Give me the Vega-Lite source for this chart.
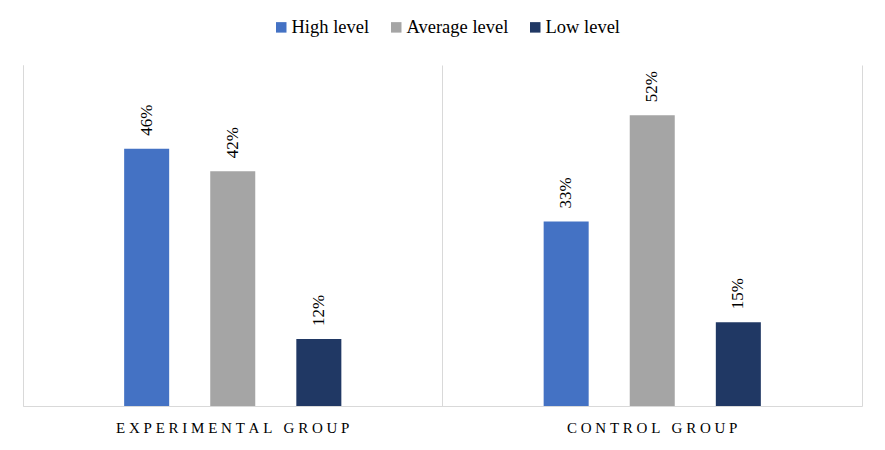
{
  "$schema": "https://vega.github.io/schema/vega-lite/v6.json",
  "width": 839,
  "height": 341,
  "autosize": "none",
  "padding": {"left": 23, "top": 65, "right": 23, "bottom": 44},
  "background": "white",
  "config": {"view": {"stroke": null}},
  "data": {
    "values": [
      {"group": "EXPERIMENTAL GROUP", "level": "High level", "value": 0.46},
      {"group": "EXPERIMENTAL GROUP", "level": "Average level", "value": 0.42},
      {"group": "EXPERIMENTAL GROUP", "level": "Low level", "value": 0.12},
      {"group": "CONTROL GROUP", "level": "High level", "value": 0.33},
      {"group": "CONTROL GROUP", "level": "Average level", "value": 0.52},
      {"group": "CONTROL GROUP", "level": "Low level", "value": 0.15}
    ]
  },
  "encoding": {
    "x": {
      "field": "group", "type": "nominal",
      "sort": ["EXPERIMENTAL GROUP", "CONTROL GROUP"],
      "scale": {"paddingInner": 0, "paddingOuter": 0},
      "axis": {
        "title": null, "labelAngle": 0, "ticks": false,
        "domainColor": "#d9d9d9", "grid": true, "gridColor": "#d9d9d9",
        "bandPosition": 0,
        "labelFont": "Liberation Serif", "labelFontSize": 15, "labelColor": "#000000",
        "labelPadding": 14, "labelLimit": 0,
        "labelExpr": "join(split(datum.label, ''), '\u00a0')"
      }
    },
    "xOffset": {
      "field": "level", "type": "nominal",
      "scale": {"domain": ["_pad_left", "High level", "Average level", "Low level", "_pad_right"], "paddingInner": 0.477, "paddingOuter": 0.175}
    },
    "y": {
      "field": "value", "type": "quantitative",
      "scale": {"domain": [0, 0.61]}
    }
  },
  "layer": [
    {
      "mark": {"type": "bar"},
      "encoding": {
        "y": {
          "field": "value", "type": "quantitative",
          "scale": {"domain": [0, 0.61]},
          "axis": {"title": null, "labels": false, "ticks": false, "grid": false, "domainColor": "#d9d9d9", "orient": "left"}
        },
        "color": {
          "field": "level", "type": "nominal",
          "scale": {"domain": ["High level", "Average level", "Low level"], "range": ["#4472C4", "#A5A5A5", "#203864"]},
          "legend": {
            "title": null, "orient": "none", "direction": "horizontal",
            "legendX": 249, "legendY": -47,
            "symbolType": "square", "symbolSize": 110, "symbolStrokeWidth": 0,
            "labelFont": "Liberation Serif", "labelFontSize": 18.5, "labelColor": "#000000",
            "labelOffset": 1, "columnPadding": 17
          }
        }
      }
    },
    {
      "mark": {"type": "text", "angle": 270, "align": "left", "baseline": "middle", "dx": 13, "font": "Liberation Serif", "fontSize": 17, "color": "#000000"},
      "encoding": {
        "y": {
          "field": "value", "type": "quantitative",
          "scale": {"domain": [0, 0.61]},
          "axis": {"title": null, "labels": false, "ticks": false, "grid": false, "domainColor": "#d9d9d9", "orient": "right"}
        },
        "text": {"field": "value", "type": "quantitative", "format": ".0%"}
      }
    }
  ],
  "resolve": {"axis": {"y": "independent"}}
}
